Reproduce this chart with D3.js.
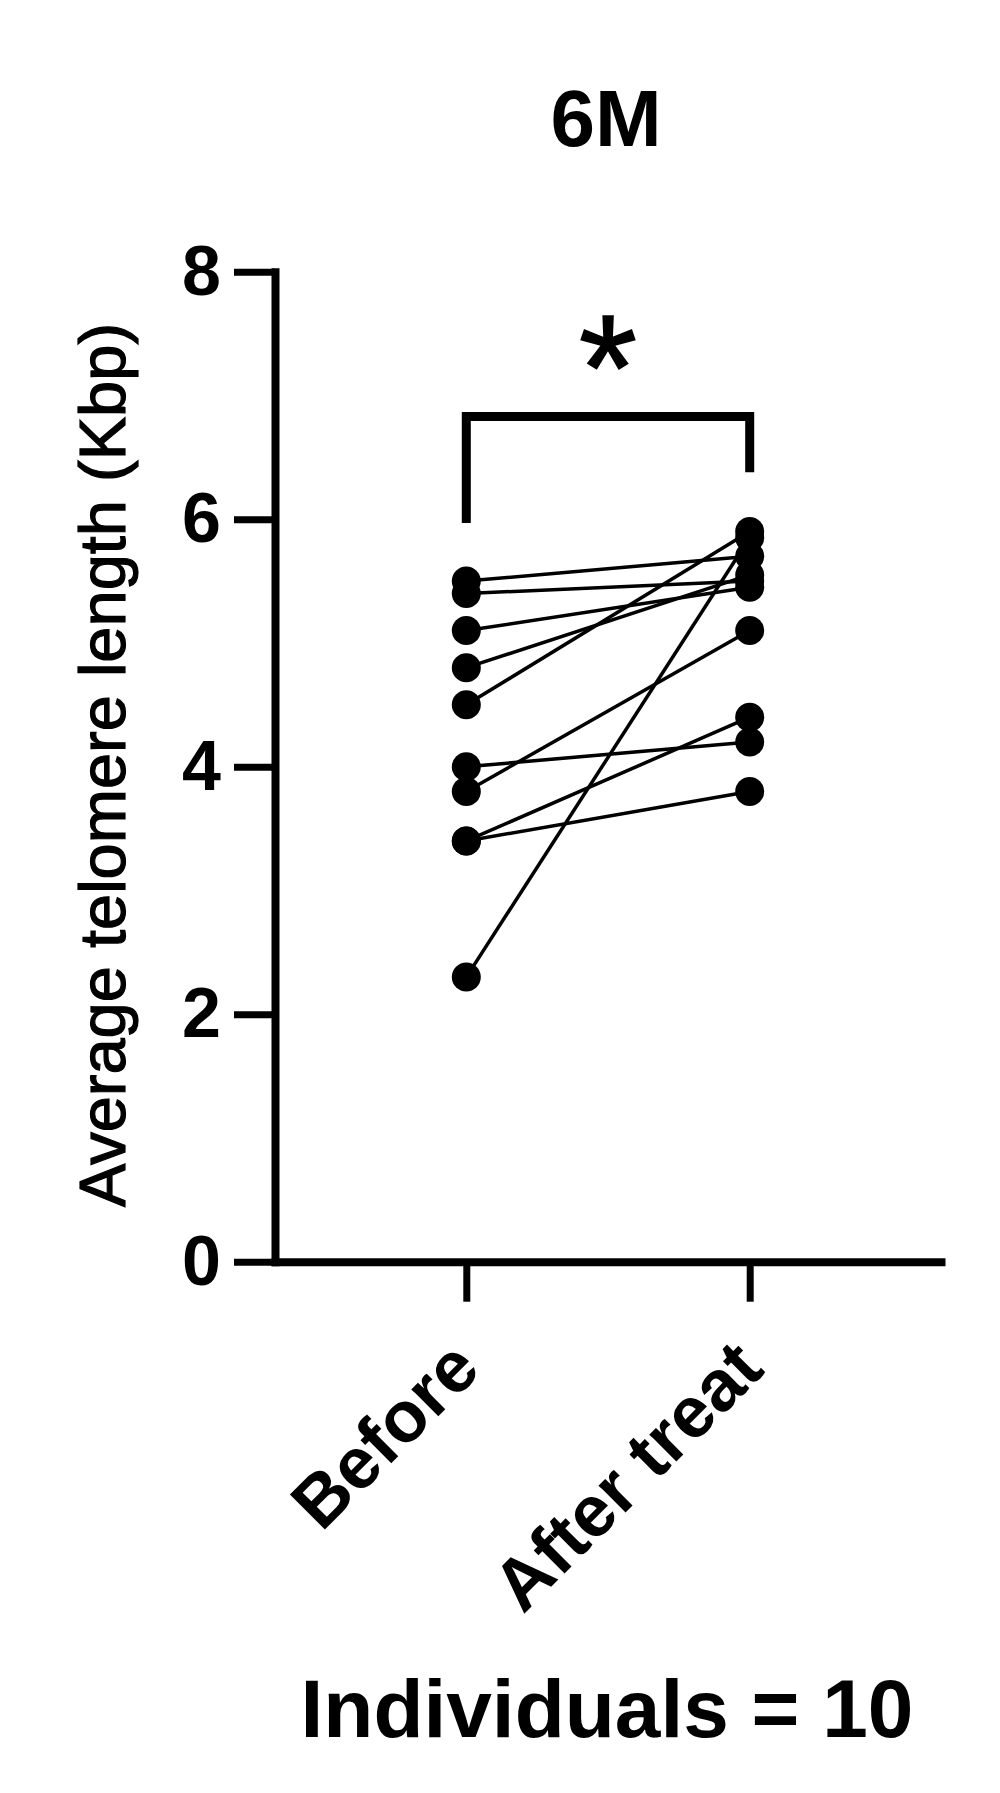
<!DOCTYPE html>
<html>
<head>
<meta charset="utf-8">
<script src="https://cdn.jsdelivr.net/npm/d3@7"></script>
<style>
  body { margin: 0; background: #fff; }
  svg { display: block; font-family: "Liberation Sans", Arial, sans-serif; }
</style>
</head>
<body>
<div id="chart"></div>
<script>
// Paired telomere length, before vs after treatment (6M)

// Data
//=================================
var groups = ["Before", "After treat"];
var beforeValues = [5.5, 5.4, 5.1, 4.8, 4.5, 4.0, 3.8, 3.4, 3.4, 2.3];
var afterValues = [5.7, 5.5, 5.45, 5.55, 5.9, 4.2, 5.1, 4.4, 3.8, 5.85];
var yTicks = [0, 2, 4, 6, 8];
// significance bracket: top, left leg end, right leg end (Kbp)
var bracketLevels = [6.83, 5.97, 6.38];
var starLevel = 7.47;

var title = "6M";
var yLabel = "Average telomere length (Kbp)";
var footer = "Individuals = 10";

// Step 1: chart size
//=================================
var svgWidth = 1000;
var svgHeight = 1793;

var svg = d3.select("#chart")
  .append("svg")
  .attr("width", svgWidth)
  .attr("height", svgHeight);

svg.append("rect")
  .attr("width", svgWidth)
  .attr("height", svgHeight)
  .attr("fill", "#fff");

// Step 2: scales
//=================================
var x = d3.scalePoint()
  .domain(groups)
  .range([275, 941])
  .padding(0.675);

var y = d3.scaleLinear()
  .domain([0, 8])
  .range([1261.7, 271.7]);

// Step 3: axes
//=================================
var yAxis = svg.append("g")
  .attr("transform", "translate(275,0)")
  .call(d3.axisLeft(y).tickValues(yTicks).tickFormat(d3.format("d"))
    .tickSize(41).tickSizeOuter(0).tickPadding(13));

yAxis.select(".domain")
  .attr("stroke", "#000")
  .attr("stroke-width", 8)
  .attr("stroke-linecap", "square");
yAxis.selectAll(".tick line")
  .attr("stroke", "#000")
  .attr("stroke-width", 7);
yAxis.selectAll(".tick text")
  .attr("fill", "#000")
  .style("font-size", "70px")
  .style("font-weight", "bold");

var xAxis = svg.append("g")
  .attr("transform", "translate(0," + y(0) + ")")
  .call(d3.axisBottom(x).tickSize(40).tickSizeOuter(0));

xAxis.select(".domain")
  .attr("stroke", "#000")
  .attr("stroke-width", 8)
  .attr("stroke-linecap", "square");
xAxis.selectAll(".tick line")
  .attr("stroke", "#000")
  .attr("stroke-width", 7);
xAxis.selectAll(".tick text")
  .attr("fill", "#000")
  .attr("x", 0)
  .attr("y", 0)
  .attr("dy", 0)
  .attr("transform", "translate(16,110) rotate(-45)")
  .style("text-anchor", "end")
  .style("font-size", "72px")
  .style("font-weight", "bold");

// y axis label
svg.append("text")
  .attr("transform", "translate(125,765) rotate(-90)")
  .attr("text-anchor", "middle")
  .style("font-size", "65px")
  .attr("fill", "#000")
  .attr("stroke", "#000")
  .attr("stroke-width", 1.2)
  .text(yLabel);

// title and footer
svg.append("text")
  .attr("x", 606)
  .attr("y", 146)
  .attr("text-anchor", "middle")
  .style("font-size", "80px")
  .style("font-weight", "bold")
  .text(title);

svg.append("text")
  .attr("x", 607)
  .attr("y", 1737)
  .attr("text-anchor", "middle")
  .style("font-size", "82px")
  .style("font-weight", "bold")
  .text(footer);

// Step 4: paired lines and points
//=================================
var pairs = beforeValues.map(function(b, i) {
  return { before: b, after: afterValues[i] };
});

svg.selectAll(".pairLine")
  .data(pairs)
  .enter()
  .append("line")
  .attr("class", "pairLine")
  .attr("x1", x(groups[0]))
  .attr("y1", d => y(d.before))
  .attr("x2", x(groups[1]))
  .attr("y2", d => y(d.after))
  .attr("stroke", "#000")
  .attr("stroke-width", 3.5);

svg.selectAll(".beforeDot")
  .data(beforeValues)
  .enter()
  .append("circle")
  .attr("class", "beforeDot")
  .attr("cx", x(groups[0]))
  .attr("cy", d => y(d))
  .attr("r", 14.5)
  .attr("fill", "#000");

svg.selectAll(".afterDot")
  .data(afterValues)
  .enter()
  .append("circle")
  .attr("class", "afterDot")
  .attr("cx", x(groups[1]))
  .attr("cy", d => y(d))
  .attr("r", 14.5)
  .attr("fill", "#000");

// Step 5: significance bracket
//=================================
var bx0 = x(groups[0]);
var bx1 = x(groups[1]);
svg.append("path")
  .attr("d", "M" + bx0 + "," + y(bracketLevels[1]) +
    "V" + y(bracketLevels[0]) +
    "H" + bx1 +
    "V" + y(bracketLevels[2]))
  .attr("fill", "none")
  .attr("stroke", "#000")
  .attr("stroke-width", 9);

svg.append("text")
  .attr("x", (bx0 + bx1) / 2)
  .attr("y", y(starLevel))
  .attr("dy", "0.55em")
  .attr("text-anchor", "middle")
  .style("font-size", "150px")
  .attr("stroke", "#000")
  .attr("stroke-width", 1.5)
  .text("*");
</script>
</body>
</html>
